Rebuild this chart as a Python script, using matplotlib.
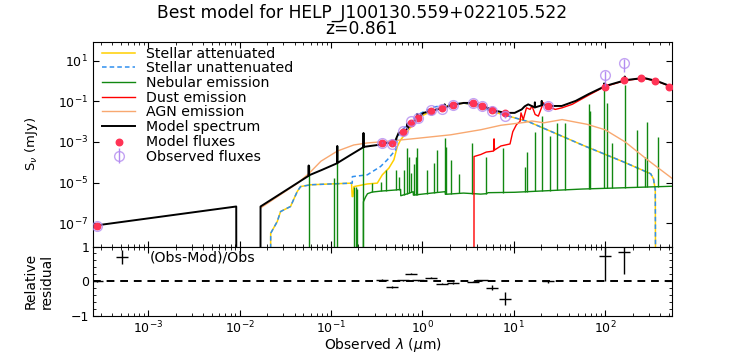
import numpy as np
import matplotlib
matplotlib.use('Agg')
import matplotlib.pyplot as plt
from matplotlib.ticker import LogLocator, NullLocator, MultipleLocator

# ---------------- data (log10 of wavelength in micron, log10 of flux in mJy) ----------------
ZERO = -12.0  # flux = 0 (below the plotted range)

# Model spectrum (black)
spec_lx = [-3.60, -2.037, -2.036, -1.772, -1.771, -1.245, -1.244, -1.243, -1.10, -0.932, -0.931, -0.930,
           -0.785, -0.645, -0.644, -0.643, -0.479, -0.435, -0.347, -0.300, -0.292, -0.260, -0.205,
           -0.165, -0.164, -0.163, -0.106, -0.056, -0.055, -0.054, 0.014, 0.102, 0.222, 0.243, 0.244, 0.245,
           0.332, 0.452, 0.551, 0.660, 0.770, 0.901, 1.011, 1.088, 1.120, 1.159, 1.230, 1.232, 1.234,
           1.306, 1.307, 1.308, 1.329, 1.383, 1.526, 1.679, 1.822, 1.989, 1.990, 1.991, 2.008,
           2.215, 2.216, 2.217, 2.238, 2.425, 2.567, 2.753]
spec_ly = [-7.13, -6.18, ZERO, ZERO, -6.18, -4.67, -4.16, -4.65, -4.38, -4.05, -3.20, -4.04,
           -3.64, -3.26, -2.56, -3.245, -3.146, -3.05, -3.05, -3.00, -2.90, -2.56, -2.51,
           -2.35, -2.10, -2.33, -2.06, -1.84, -1.62, -1.82, -1.57, -1.47, -1.33, -1.31, -1.15, -1.30,
           -1.18, -1.08, -1.08, -1.23, -1.43, -1.57, -1.57, -1.40, -1.25, -1.15, -1.30, -1.05, -1.30,
           -1.20, -0.98, -1.18, -1.15, -1.23, -1.23, -0.98, -0.64, -0.28, -0.12, -0.27, -0.24,
           0.03, 0.22, 0.04, 0.05, 0.15, 0.00, -0.32]

# Stellar unattenuated
stun_lx = [-1.662, -1.660, -1.588, -1.552, -1.443, -1.369, -1.333, -1.223, -1.004, -0.767, -0.766,
           -0.602, -0.457, -0.383, -0.292, -0.274, -0.238, -0.128, -0.019, 0.127, 0.310, 0.456,
           0.639, 0.800, 1.160, 1.750, 2.200, 2.500, 2.530, 2.550, 2.555]
stun_ly = [ZERO, -7.50, -6.92, -6.43, -6.18, -5.44, -5.20, -5.11, -5.07, -5.03, -4.71,
           -4.62, -4.21, -3.88, -3.39, -2.82, -2.49, -2.00, -1.59, -1.28, -1.15, -1.08,
           -1.28, -1.55, -2.00, -3.15, -3.98, -4.57, -4.82, -5.35, ZERO]

# Stellar attenuated
stat_lx = [-1.662, -1.660, -1.588, -1.552, -1.443, -1.369, -1.333, -1.223, -1.004, -0.775, -0.768,
           -0.760, -0.749, -0.602, -0.493, -0.438, -0.366, -0.311, -0.274, -0.238, -0.164, -0.110,
           -0.019, 0.127, 0.310, 0.456, 0.639, 0.800, 1.160, 1.750, 2.200, 2.500, 2.530, 2.550, 2.555]
stat_ly = [ZERO, -7.50, -6.92, -6.43, -6.18, -5.44, -5.20, -5.11, -5.07, -5.03, -5.69,
           -5.69, -5.20, -5.07, -5.03, -4.62, -4.29, -3.88, -3.23, -2.90, -2.49, -2.16,
           -1.75, -1.42, -1.18, -1.09, -1.28, -1.55, -2.00, -3.15, -3.98, -4.57, -4.82, -5.35, ZERO]

# Nebular continuum
neb_lx = [-0.646, -0.645, -0.620, -0.600, -0.550, -0.450, -0.300, -0.238, -0.236, -0.160, -0.100,
          -0.098, 0.000, 0.100, 0.250, 0.252, 0.450, 0.639, 0.700, 0.720, 1.011, 1.752, 2.760]
neb_ly = [ZERO, -5.95, -5.70, -5.55, -5.47, -5.42, -5.37, -5.34, -5.65, -5.55, -5.45,
          -5.62, -5.57, -5.52, -5.45, -5.58, -5.52, -5.57, -5.55, -5.50, -5.48, -5.32, -5.18]

# Nebular emission lines: position, peak, base
line_lx = [-1.242, -0.968, -0.931, -0.749, -0.731, -0.712, -0.646, -0.548, -0.457, -0.402, -0.292,
           -0.256, -0.200, -0.164, -0.147, -0.128, -0.090, -0.073, -0.055, 0.055, 0.127, 0.164,
           0.244, 0.263, 0.310, 0.400, 0.548, 0.693, 0.880, 1.121, 1.151, 1.232, 1.307, 1.400,
           1.474, 1.559, 1.819, 1.835, 1.989, 2.026, 2.073, 2.216, 2.355, 2.438, 2.464, 2.585]
line_top = [-4.20, -4.78, -3.20, -5.20, -5.20, -5.30, -2.56, -5.03, -4.95, -4.38, -4.38,
            -4.71, -4.40, -3.31, -3.72, -4.52, -4.10, -3.72, -3.31, -4.38, -4.05, -3.39,
            -2.82, -3.23, -3.88, -4.60, -3.06, -3.74, -3.28, -4.23, -3.49, -2.52, -1.73, -2.73,
            -2.06, -2.06, -1.15, -1.48, -0.36, -1.07, -3.06, -0.20, -2.41, -3.72, -2.00, -2.74]
line_base = [ZERO, ZERO, ZERO, ZERO, ZERO, ZERO, ZERO, -5.47, -5.42, -5.40, -5.37,
             -5.35, -5.60, -5.57, -5.52, -5.48, -5.60, -5.60, -5.59, -5.55, -5.51, -5.49,
             -5.45, -5.57, -5.56, -5.54, -5.55, -5.56, -5.50, -5.46, -5.45, -5.44, -5.43, -5.40,
             -5.38, -5.36, -5.31, -5.31, -5.28, -5.27, -5.27, -5.25, -5.23, -5.22, -5.22, -5.20]

# Dust emission
dust_lx = [0.565, 0.566, 0.640, 0.700, 0.780, 0.785, 0.790, 0.860, 0.960, 0.990, 1.030, 1.070, 1.080,
           1.105, 1.140, 1.180, 1.200, 1.235, 1.270, 1.325, 1.360, 1.455, 1.530, 1.640, 1.820,
           2.000, 2.230, 2.420, 2.570, 2.760]
dust_ly = [ZERO, -3.72, -3.62, -3.50, -3.45, -2.85, -3.40, -3.20, -3.10, -2.50, -2.15, -1.99, -1.57,
           -1.90, -1.32, -1.40, -1.23, -1.65, -1.73, -1.07, -1.23, -1.40, -1.32, -1.15, -0.70,
           -0.27, 0.03, 0.13, -0.02, -0.34]

# AGN emission
agn_lx = [-1.770, -1.370, -1.240, -1.110, -0.930, -0.750, -0.600, -0.380, -0.050, 0.310, 0.640,
          0.860, 1.120, 1.200, 1.330, 1.530, 1.800, 2.000, 2.220, 2.470, 2.750]
agn_ly = [-6.25, -5.05, -4.55, -3.95, -3.45, -3.15, -3.05, -2.97, -2.82, -2.65, -2.40,
          -2.18, -2.04, -1.97, -2.06, -1.90, -2.13, -2.40, -3.00, -3.90, -4.85]

# Photometric bands
band_lx = [-3.56, -0.444, -0.330, -0.210, -0.120, -0.046, 0.097, 0.212, 0.332, 0.556, 0.653,
           0.763, 0.903, 1.380, 2.000, 2.204, 2.398, 2.544, 2.699]
mod_ly = [-7.13, -3.06, -3.06, -2.49, -2.06, -1.83, -1.46, -1.34, -1.18, -1.07, -1.23,
          -1.43, -1.57, -1.23, -0.28, 0.05, 0.15, 0.00, -0.29]
# Observed fluxes (first 16 bands)
obs_ly = [-7.13, -3.04, -3.124, -2.477, -1.952, -1.817, -1.414, -1.369, -1.201, -1.074, -1.217,
          -1.502, -1.746, -1.23, 0.273, 0.874]
obs_relerr = [0.02, 0.03, 0.03, 0.02, 0.02, 0.02, 0.02, 0.02, 0.02, 0.02, 0.02,
              0.08, 0.19, 0.04, 0.70, 0.63]

# ---------------- plotting ----------------
def p(v):
    return 10.0 ** np.asarray(v, dtype=float)

fig = plt.figure(figsize=(7.47, 3.54), dpi=100)
W, H = 747.0, 354.0
L, R, T, M, B = 93, 672, 42.3, 246.5, 316
ax1 = fig.add_axes([L / W, 1 - M / H, (R - L) / W, (M - T) / H])
ax2 = fig.add_axes([L / W, 1 - B / H, (R - L) / W, (B - M) / H], sharex=ax1)

c_att = '#ffd000'
c_un = '#2f8fef'
c_neb = '#118811'
c_dust = '#ff0000'
c_agn = '#f8a870'

ax1.plot(p(stat_lx), p(stat_ly), color=c_att, lw=1.1, label='Stellar attenuated')
ax1.plot(p(stun_lx), p(stun_ly), color=c_un, lw=1.1, ls=(0, (3, 2)), label='Stellar unattenuated')
ax1.plot(p(neb_lx), p(neb_ly), color=c_neb, lw=1.0, label='Nebular emission')
ax1.vlines(p(line_lx), p(line_base), p(line_top), color=c_neb, lw=1.0)
ax1.plot(p(dust_lx), p(dust_ly), color=c_dust, lw=1.0, label='Dust emission')
ax1.plot(p(agn_lx), p(agn_ly), color=c_agn, lw=1.0, label='AGN emission')
ax1.plot(p(spec_lx), p(spec_ly), color='black', lw=1.4, label='Model spectrum')
ax1.scatter(p(band_lx), p(mod_ly), color='#ff3355', s=22, zorder=5, label='Model fluxes')

nobs = len(obs_ly)
obs = p(obs_ly)
ax1.errorbar(p(band_lx[:nobs]), obs, yerr=np.array(obs_relerr) * obs, fmt='o', ms=7,
             mfc='none', mec='#b48cf0', ecolor='#a070ee', mew=1.0, elinewidth=1.0, capsize=0,
             alpha=0.8, zorder=6, label='Observed fluxes')

ax1.set_xscale('log')
ax1.set_yscale('log')
ax1.set_xlim(10 ** -3.605, 10 ** 2.733)
ax1.set_ylim(10 ** -8.15, 10 ** 1.905)
ax1.set_yticks([1e-7, 1e-5, 1e-3, 1e-1, 1e1])
ax1.yaxis.set_minor_locator(NullLocator())
ax1.xaxis.set_major_locator(LogLocator(base=10, numticks=20))
ax1.xaxis.set_minor_locator(LogLocator(base=10, subs=np.arange(2, 10), numticks=20))
ax1.tick_params(which='both', direction='in', top=True, right=True, labelbottom=False, labelsize=9)
ax1.tick_params(which='major', length=4)
ax1.tick_params(which='minor', length=2)
ax1.set_ylabel(r'S$_{\nu}$ (mJy)', fontsize=9.5)
ax1.yaxis.set_label_coords(-0.092, 0.5)

ax1.legend(loc='upper left', bbox_to_anchor=(5 / 579, 1.0), fontsize=10.2, frameon=False,
           handlelength=2.3, handletextpad=0.8, labelspacing=0.05, borderaxespad=0.0, borderpad=0.3)

# residuals
res = (obs - p(mod_ly[:nobs])) / obs
ax2.errorbar(p(band_lx[:nobs]), res, yerr=obs_relerr, fmt='_', color='black', ms=9, mew=1.0,
             elinewidth=1.0, capsize=0, label='(Obs-Mod)/Obs')
ax2.axhline(0, ls='--', color='black', lw=1.4, dashes=(4, 3))
ax2.set_ylim(-1, 1)
ax2.set_yticks([-1, 0, 1])
ax2.yaxis.set_minor_locator(MultipleLocator(0.2))
ax2.tick_params(which='both', direction='in', top=True, right=True, labelsize=9, pad=2.5)
ax2.tick_params(which='major', length=4)
ax2.tick_params(which='minor', length=2)
ax2.set_xlabel(r'Observed $\lambda$ ($\mu$m)', fontsize=10)
ax2.xaxis.set_label_coords(0.5, -0.29)
ax2.set_ylabel('Relative\nresidual', fontsize=10)
ax2.yaxis.set_label_coords(-0.068, 0.5)
ax2.legend(loc='upper left', bbox_to_anchor=(3 / 579, 1.0), fontsize=10.2, frameon=False,
           handlelength=3.1, handletextpad=0.4, borderaxespad=0.0, borderpad=0.3)

fig.text(362 / W, 1 - 4 / H, 'Best model for HELP_J100130.559+022105.522\nz=0.861',
         ha='center', va='top', fontsize=12.3, linespacing=0.85)

fig.savefig('out.png', dpi=100)
